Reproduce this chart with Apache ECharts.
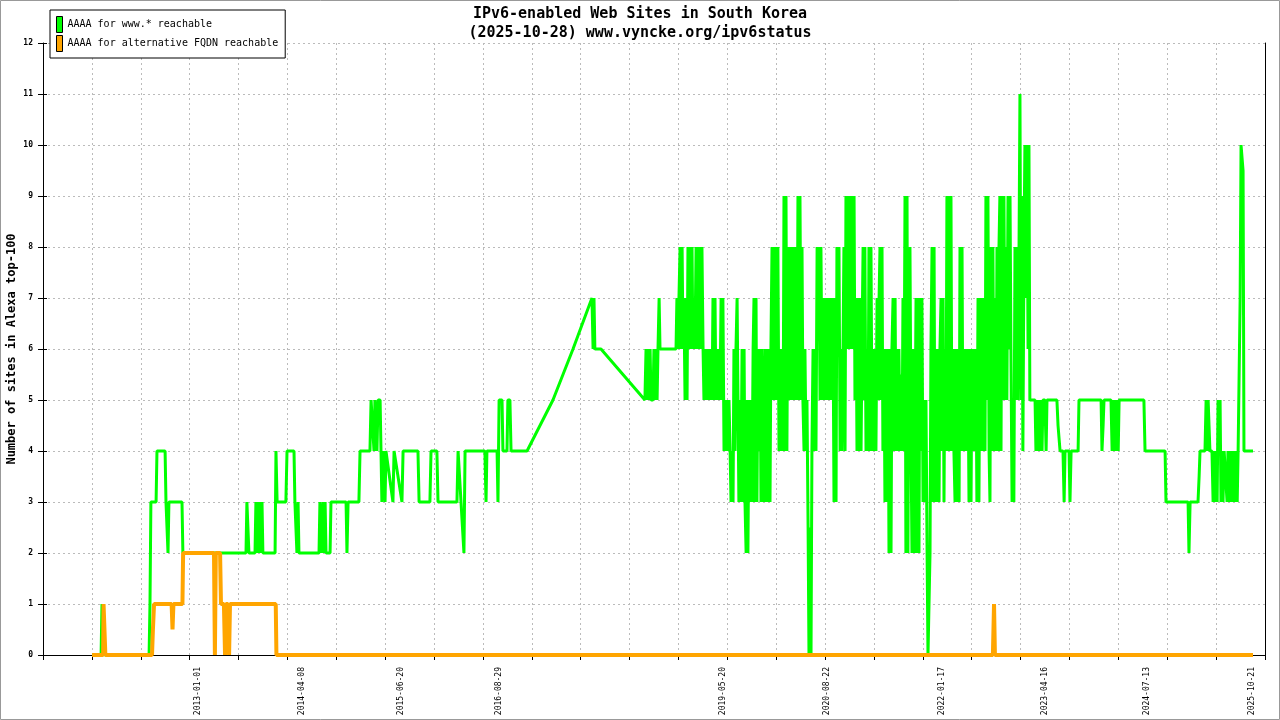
<!DOCTYPE html>
<html><head><meta charset="utf-8">
<script src="https://cdn.jsdelivr.net/npm/echarts@6.0.0/dist/echarts.min.js"></script>
<style>html,body{margin:0;padding:0;background:#fff}#c{width:1280px;height:720px}</style>
</head><body><div id="c"></div>
<script>
const titleLines = ['IPv6-enabled Web Sites in South Korea', '(2025-10-28) www.vyncke.org/ipv6status'];
const seriesNames = ['AAAA for www.* reachable', 'AAAA for alternative FQDN reachable'];
const yAxisName = 'Number of sites in Alexa top-100';
const xLabelDates = ['2013-01-01','2014-04-08','2015-06-20','2016-08-29','2019-05-20','2020-08-22','2022-01-17','2023-04-16','2024-07-13','2025-10-21'];
const yRange = [0, 12];
const xRangeDays = [-687.7, 4734.3];   // days since 2013-01-01
const xTickStep = 216.88;              // days between axis ticks
// samples: [days since 2013-01-01, number of sites]
const greenPoints = [
[-470,0],[-430,0],[-426,1],[-421,1],[-417,0],
[-217,0],[-213,1],[-209,3],[-186,3],[-182,4],[-146,4],[-142,3],[-138,3],[-133,2],[-129,3],[-71,3],[-67,2],
[213,2],[217,3],[221,3],[226,2],[253,2],[257,3],[262,2],[266,3],[271,2],[275,3],[280,2],[284,3],[288,2],
[342,2],[346,4],[351,3],[390,3],[395,4],[426,4],[430,3],[439,2],[444,3],[448,2],
[537,2],[541,3],[546,2],[555,3],[559,2],[564,3],[568,2],[586,2],[590,3],[657,3],[661,2],[666,3],
[714,3],[719,4],[763,4],[768,5],[781,4],[785,5],[794,4],[799,5],[808,5],[812,4],
[816,3],[821,4],[830,3],[834,4],[865,3],[870,4],[905,3],[910,4],
[976,4],[981,3],[1029,3],[1034,4],[1060,4],[1065,3],[1149,3],[1154,4],[1180,2],[1185,4],
[1273,4],[1278,3],[1282,4],[1327,4],[1331,3],[1336,5],[1349,5],[1353,4],[1371,4],[1375,5],[1384,5],[1389,4],
[1460,4],[1575,5],[1664,6],[1748,7],[1753,6],[1757,7],[1761,6],[1788,6],[1983,5],
[1988,6],[1992,5],[1997,6],[2001,5],[2006,6],[2010,5],[2019,5],[2023,6],[2028,5],[2032,6],[2037,5],[2041,6],[2046,7],[2050,6],[2121,6],
[2125,7],[2130,6],[2134,7],[2139,8],[2143,6],[2148,8],[2152,6],[2156,7],[2161,5],[2165,7],[2170,5],[2174,8],[2179,6],[2183,8],[2187,6],[2192,8],[2196,6],[2201,7],[2205,6],[2210,8],[2214,6],[2219,8],[2223,6],[2227,8],[2232,6],[2236,8],[2241,6],
[2245,5],[2250,6],[2254,5],[2258,6],[2263,5],[2267,6],[2272,5],[2276,6],[2281,5],[2285,7],[2290,5],[2294,7],[2298,5],[2303,6],[2307,5],[2312,6],[2316,5],[2321,7],[2325,5],[2329,7],
[2334,4],[2338,5],[2343,4],[2347,5],[2352,4],[2356,5],[2361,4],[2365,3],[2369,4],[2374,3],[2378,6],[2383,4],[2387,6],[2392,7],[2396,5],[2400,3],[2405,5],[2409,3],[2414,6],[2418,3],[2423,6],[2427,3],[2432,2],[2436,5],[2440,2],[2445,5],[2449,3],[2454,5],[2458,3],
[2463,6],[2467,7],[2471,3],[2476,7],[2480,3],[2485,6],[2489,4],[2494,6],[2498,3],[2502,6],[2507,4],[2511,3],[2516,6],[2520,3],[2525,6],[2529,3],[2534,6],[2538,3],[2542,6],
[2547,8],[2551,5],[2556,8],[2560,5],[2565,8],[2569,5],[2573,8],[2578,4],[2582,6],[2587,4],[2591,6],[2596,4],[2600,9],[2605,4],[2609,9],[2613,4],[2618,8],[2622,5],[2627,8],[2631,5],[2636,8],[2640,5],
[2644,8],[2649,5],[2653,8],[2658,5],[2662,9],[2667,5],[2671,9],[2676,5],[2680,8],[2684,5],[2689,4],[2693,6],[2698,4],[2702,5],[2707,2.5],[2711,0],[2715,2.5],[2720,0],[2724,4],[2729,6],[2733,4],[2738,6],[2742,4],
[2747,8],[2751,7.5],[2755,8],[2760,5],[2764,8],[2769,5],[2773,7],[2778,5],[2782,7],[2786,5],[2791,7],[2795,5],[2800,7],[2804,5],[2809,7],[2813,5],[2817,7],[2822,3],[2826,7],[2831,3],[2835,8],[2840,6],[2844,8],
[2849,4],[2853,6],[2857,4],[2862,6],[2866,8],[2871,4],[2875,9],[2880,6],[2884,9],[2888,6],[2893,9],[2897,6],[2902,9],[2906,6],[2911,9],[2915,5],[2920,7],[2924,4],[2928,7],[2933,4],[2937,7],[2942,4],
[2946,6],[2951,8],[2955,5],[2959,8],[2964,4],[2968,6],[2973,4],[2977,8],[2982,4],[2986,8],[2991,4],[2995,6],[2999,4],[3004,6],[3008,4],[3013,7],[3017,5],[3022,7],[3026,8],[3030,5],[3035,8],[3039,4],[3044,6],[3048,3],[3053,6],[3057,3],[3062,6],[3066,2],[3070,6],[3075,2],[3079,6],[3084,7],[3088,4],[3093,7],[3097,4],[3101,6],[3106,4],[3110,6],
[3115,4],[3119,5.5],[3124,4],[3128,7],[3132,4],[3137,9],[3141,2],[3146,9],[3150,2],[3155,7],[3159,8],[3164,4],[3168,2],[3172,6],[3177,2],[3181,4],[3186,7],[3190,2],[3195,7],[3199,2],[3203,7],[3208,4],[3212,7],[3217,3],
[3221,5],[3226,3],[3230,5],[3235,2],[3239,0],[3243,0],[3248,2],[3252,6],[3257,8],[3261,3],[3266,8],[3270,3],[3274,6],[3279,3],[3283,6],[3288,3],[3292,6],[3297,7],[3301,4],[3306,7],[3310,3],[3314,6],[3319,4],[3323,9],[3328,4],[3332,9],[3337,4],[3341,9],[3345,4],[3350,6],[3354,4],[3359,3],[3363,6],[3368,3],[3372,6],[3377,3],[3381,8],[3385,4],[3390,8],[3394,4],
[3399,6],[3403,4],[3408,6],[3412,4],[3416,6],[3421,3],[3425,6],[3430,3],[3434,6],[3439,4],[3443,6],[3447,4],[3452,6],[3456,3],[3461,7],[3465,3],[3470,7],[3474,4],[3479,7],[3483,4],[3487,7],[3492,4],[3496,9],[3501,5],[3505,9],[3510,4],[3514,3],[3518,8],[3523,4],[3527,8],[3532,4],[3536,7],[3541,4],[3545,8],[3550,4],[3554,8],
[3558,9],[3563,4],[3567,9],[3572,5],[3576,9],[3581,5],[3585,8],[3589,5],[3594,9],[3598,6],[3603,9],[3607,6],[3612,3],[3616,5],[3620,3],[3625,8],[3629,5],[3634,8],[3638,5],[3643,8],[3647,11],[3652,5],[3656,9],[3660,4],[3665,8],[3669,10],[3674,7],[3678,10],[3683,6],[3687,10],[3691,5],
[3714,5],[3718,4],[3723,5],[3727,4],[3731,5],[3736,4],[3740,5],[3745,4],[3749,5],[3758,5],[3763,4],[3767,5],[3811,5],[3816,4.5],[3820,4.5],[3825,4],[3838,4],[3843,3],[3847,4],[3865,4],[3869,3],[3874,4],[3905,4],[3909,5],
[4007,5],[4011,4],[4016,4.5],[4020,5],[4051,5],[4056,4],[4060,5],[4065,4],[4069,5],[4074,4],[4078,5],[4083,4],[4087,5],[4197,5],[4202,4],[4291,4],[4295,3],[4393,3],[4397,2],[4402,3],[4437,3],[4442,3.5],[4446,4],
[4468,4],[4473,5],[4477,4],[4482,5],[4486,4.5],[4490,4],[4499,4],[4504,3],[4508,4],[4513,3],[4517,4],[4522,3],[4526,5],[4531,4],[4535,5],[4539,3],[4544,4],[4548,3],[4553,4],
[4561,4],[4566,3],[4570,4],[4575,3],[4579,4],[4584,3],[4588,4],[4593,3],[4597,4],[4602,3],[4606,4],[4611,3],[4615,4],[4619,4],[4624,7],[4628,10],[4633,10],[4637,9.5],[4641,4],[4681,4]
];
const orangePoints = [
[-470,0],[-421,0],[-419,1],[-413,1],[-411,0],[-204,0],[-200,0.5],[-195,1],[-117,1],[-113,0.5],[-109,1],[-69,1],[-66,2],
[71,2],[75,0],[79,2],[98,2],[102,1],[115,1],[120,0],[124,1],[133,1],[138,0],[142,1],[345,1],[348,0],
[3527,0],[3532,1],[3536,0],[4681,0]
];

const MONO = 'DejaVu Sans Mono';
const baseDay = Date.UTC(2013, 0, 1);
const labelDays = xLabelDates.map(s => {
  const p = s.split('-').map(Number);
  return (Date.UTC(p[0], p[1] - 1, p[2]) - baseDay) / 86400000;
});
const dotted = { color: '#bbbbbb', width: 1, type: [2, 3] };

const chart = echarts.init(document.getElementById('c'), null, { renderer: 'canvas' });
chart.setOption({
  animation: false,
  backgroundColor: '#ffffff',
  title: {
    text: titleLines.join('\n'),
    left: 'center', top: 0,
    textStyle: { fontFamily: MONO, fontSize: 15, fontWeight: 'bold', color: '#000', lineHeight: 19 }
  },
  legend: {
    data: seriesNames,
    orient: 'vertical', left: 50, top: 10,
    icon: 'rect', itemWidth: 6, itemHeight: 16, itemGap: 2,
    padding: [6, 7, 6, 6],
    borderColor: '#000', borderWidth: 1, backgroundColor: '#fff',
    itemStyle: { borderColor: '#000', borderWidth: 1 },
    textStyle: { fontFamily: MONO, fontSize: 10, color: '#000' }
  },
  grid: { left: 43, right: 15, top: 43, bottom: 65, containLabel: false, outerBoundsMode: 'none' },
  xAxis: {
    type: 'value', min: xRangeDays[0], max: xRangeDays[1], interval: xTickStep,
    axisLine: { onZero: false, lineStyle: { color: '#000', width: 1 } },
    axisTick: { show: true, length: 5, lineStyle: { color: '#000' } },
    splitLine: { show: true, lineStyle: dotted },
    axisLabel: {
      customValues: labelDays, rotate: 90, margin: 12,
      fontFamily: MONO, fontSize: 8, color: '#000',
      formatter: v => { const i = labelDays.findIndex(d => Math.abs(d - v) < 0.5); return i >= 0 ? xLabelDates[i] : ''; }
    }
  },
  yAxis: [
    {
      type: 'value', min: yRange[0], max: yRange[1], interval: 1, position: 'left',
      name: yAxisName, nameLocation: 'middle', nameGap: 25, nameMoveOverlap: false,
      nameTextStyle: { fontFamily: MONO, fontSize: 12, fontWeight: 'bold', color: '#000' },
      axisLine: { show: true, onZero: false, lineStyle: { color: '#000', width: 1 } },
      axisTick: { show: true, length: 5, lineStyle: { color: '#000' } },
      axisLabel: { fontFamily: MONO, fontSize: 8, fontWeight: 'bold', color: '#000', margin: 10 },
      splitLine: { show: true, lineStyle: dotted }
    },
    {
      type: 'value', min: yRange[0], max: yRange[1], interval: 1, position: 'left', offset: 0,
      axisLine: { show: false, onZero: false },
      axisTick: { show: true, inside: true, length: 4, lineStyle: { color: '#000' } },
      axisLabel: { show: false }, splitLine: { show: false }
    },
    {
      type: 'value', min: yRange[0], max: yRange[1], interval: 1, position: 'right', offset: 0,
      axisLine: { show: true, onZero: false, lineStyle: { color: '#000', width: 1 } },
      axisTick: { show: false }, axisLabel: { show: false }, splitLine: { show: false }
    }
  ],
  series: [
    {
      name: seriesNames[0], type: 'line', data: greenPoints, yAxisIndex: 0,
      showSymbol: false, symbol: 'none', color: '#00ff00',
      lineStyle: { color: '#00ff00', width: 3 }, z: 2
    },
    {
      name: seriesNames[1], type: 'line', data: orangePoints, yAxisIndex: 0,
      showSymbol: false, symbol: 'none', color: '#ffa500',
      lineStyle: { color: '#ffa500', width: 4 }, z: 3
    }
  ],
  graphic: [{
    type: 'rect', silent: true, z: 100,
    shape: { x: 0.5, y: 0.5, width: 1279, height: 719 },
    style: { fill: 'none', stroke: '#999999', lineWidth: 1 }
  }]
});
</script></body></html>
